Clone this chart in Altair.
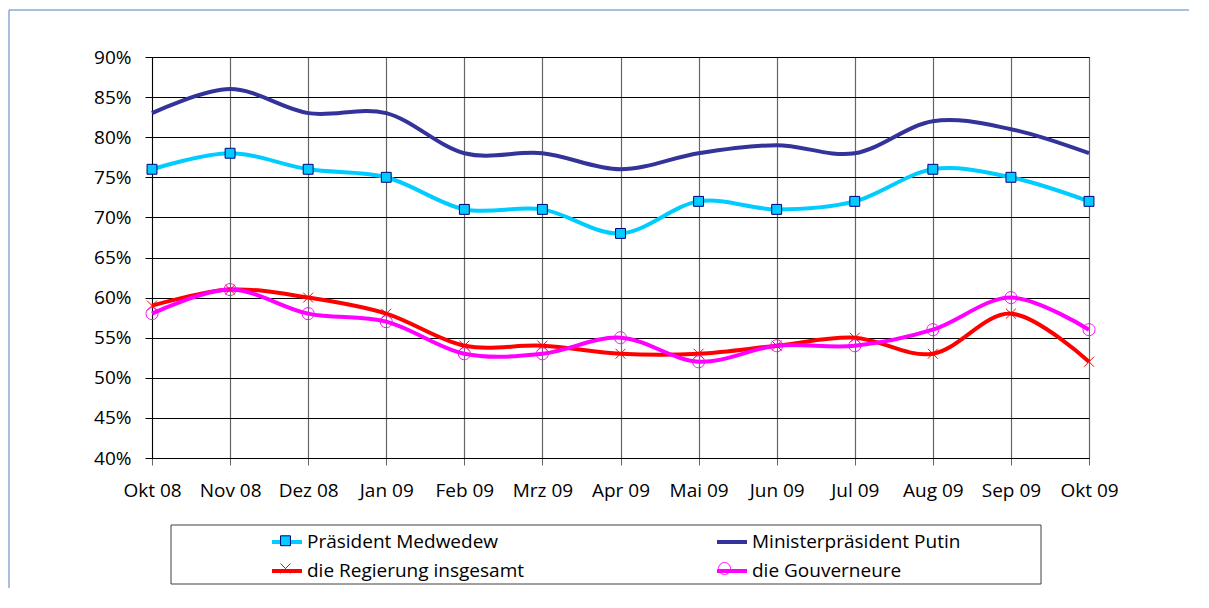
import altair as alt
import pandas as pd

months = ["Okt 08", "Nov 08", "Dez 08", "Jan 09", "Feb 09", "Mrz 09", "Apr 09",
          "Mai 09", "Jun 09", "Jul 09", "Aug 09", "Sep 09", "Okt 09"]
series = ["Präsident Medwedew", "Ministerpräsident Putin",
          "die Regierung insgesamt", "die Gouverneure"]
medwedew = [76, 78, 76, 75, 71, 71, 68, 72, 71, 72, 76, 75, 72]
putin = [83, 86, 83, 83, 78, 78, 76, 78, 79, 78, 82, 81, 78]
regierung = [59, 61, 60, 58, 54, 54, 53, 53, 54, 55, 53, 58, 52]
gouverneure = [58, 61, 58, 57, 53, 53, 55, 52, 54, 54, 56, 60, 56]
y_ticks = [40, 45, 50, 55, 60, 65, 70, 75, 80, 85, 90]

line_colors = ["#00CCFF", "#333399", "#FF0000", "#FF00FF"]
marker_fill = ["#00CCFF", "transparent", "transparent", "transparent"]
marker_stroke = ["#000080", "transparent", "#FF0000", "#FF00FF"]
marker_shapes = [
    "M-0.33,-0.33H0.33V0.33H-0.33Z",
    "M0,0Z",
    "M-0.33,-0.33L0.33,0.33M-0.33,0.33L0.33,-0.33",
    "M0.4,0A0.4,0.4 0 1,1 -0.4,0A0.4,0.4 0 1,1 0.4,0Z",
]

rows = []
for name, vals in zip(series, [medwedew, putin, regierung, gouverneure]):
    for m, v in zip(months, vals):
        rows.append({"Monat": m, "Wert": v, "Serie": name, "Serie_m": name})
df = pd.DataFrame(rows)

FONT = "Open Sans"
FS = 19
LX, LY = 118, 468
COLPAD = 185
COLPAD_M = 405

x_enc = alt.X("Monat:N", sort=months,
              scale=alt.Scale(type="point", domain=months, padding=0),
              axis=alt.Axis(title=None, grid=True, gridColor="#666666", gridWidth=1.2,
                            tickColor="#666666", tickSize=7, labelAngle=0,
                            labelPadding=16, domainColor="#000000"))
y_enc = alt.Y("Wert:Q",
              scale=alt.Scale(domain=[40, 90], nice=False, zero=False),
              axis=alt.Axis(title=None, values=y_ticks, labelExpr="datum.value + '%'",
                            grid=True, gridColor="#000000", gridWidth=1,
                            tickColor="#000000", tickSize=7, labelPadding=14,
                            domainColor="#000000"))

base = alt.Chart(df)

lines = base.mark_line(strokeWidth=4, interpolate="cardinal", tension=0).encode(
    x=x_enc, y=y_enc,
    color=alt.Color("Serie:N", scale=alt.Scale(domain=series, range=line_colors),
                    legend=alt.Legend(orient="none", legendX=LX, legendY=LY, columns=2,
                                      direction="horizontal",
                                      columnPadding=COLPAD, rowPadding=2, padding=0,
                                      symbolType="stroke", symbolSize=900,
                                      symbolStrokeWidth=4, labelFont=FONT,
                                      labelFontSize=FS, labelColor="#000000",
                                      labelOffset=3, labelLimit=0, title=None)),
)

mleg = alt.Legend(orient="none", legendX=LX, legendY=LY, columns=2,
                  direction="horizontal",
                  columnPadding=COLPAD_M, rowPadding=2, padding=0,
                  symbolSize=900, symbolStrokeWidth=1, labelFont=FONT,
                  labelFontSize=FS, labelExpr="''", labelOffset=3, labelLimit=0,
                  title=None, zindex=2)

points = base.transform_filter(
    alt.datum.Serie != "Ministerpräsident Putin"
).mark_point(size=900, strokeWidth=1, opacity=1).encode(
    x=alt.X("Monat:N", sort=months), y="Wert:Q",
    fill=alt.Fill("Serie_m:N", scale=alt.Scale(domain=series, range=marker_fill), legend=mleg),
    stroke=alt.Stroke("Serie_m:N", scale=alt.Scale(domain=series, range=marker_stroke), legend=mleg),
    shape=alt.Shape("Serie_m:N", scale=alt.Scale(domain=series, range=marker_shapes), legend=mleg),
)

one = pd.DataFrame({"k": [0]})
frame_left = alt.Chart(one).mark_rule(color="#4f81bd", strokeWidth=1).encode(
    x=alt.value(-143), y=alt.value(-47), y2=alt.value(700))
frame_top = alt.Chart(one).mark_rule(color="#4f81bd", strokeWidth=1).encode(
    x=alt.value(-143), x2=alt.value(1200), y=alt.value(-47))
legend_box = alt.Chart(one).mark_rect(fill="transparent", stroke="#404040", strokeWidth=1).encode(
    x=alt.value(19), x2=alt.value(889), y=alt.value(468), y2=alt.value(527))

chart = alt.layer(frame_left, frame_top, legend_box, lines, points).resolve_scale(
    color="independent"
).properties(
    width=937, height=401,
    padding={"left": 144, "top": 49, "right": 100, "bottom": 130},
    autosize=alt.AutoSizeParams(type="none"),
).configure_view(stroke="#000000", strokeWidth=1).configure_axis(
    labelFont=FONT, labelFontSize=FS, labelColor="#000000"
)

chart.save("out.html", embed_options={"renderer": "svg", "actions": False})
